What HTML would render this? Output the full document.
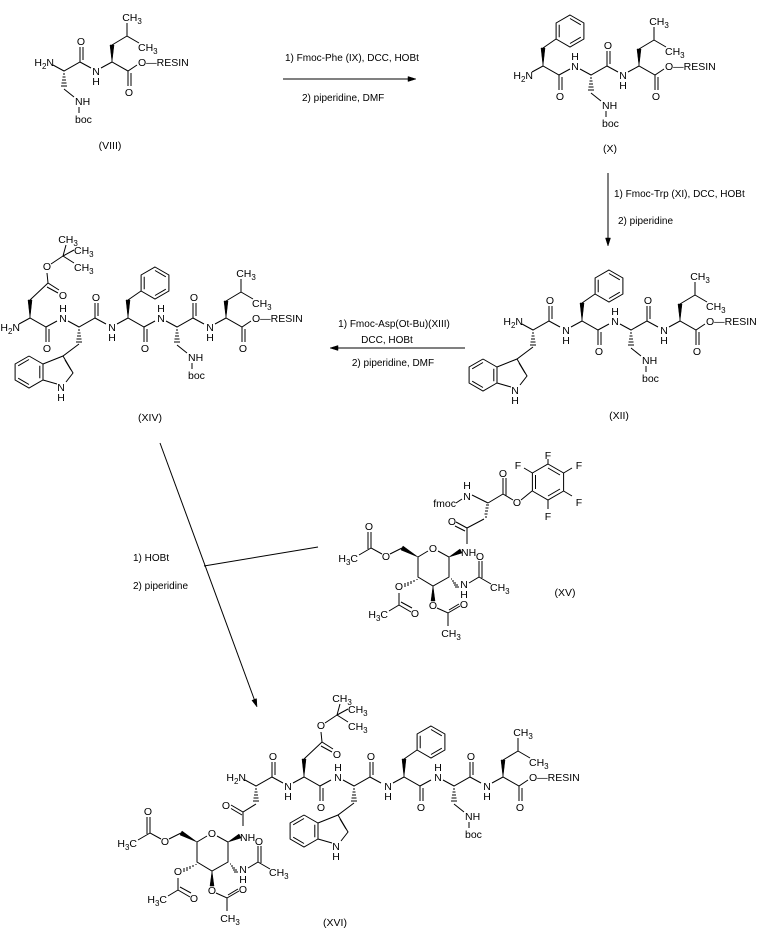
<!DOCTYPE html>
<html><head><meta charset="utf-8"><style>
html,body{margin:0;padding:0;background:#fff}
svg{display:block}
svg text{font-family:"Liberation Sans",Arial,sans-serif;font-size:10.5px;text-anchor:middle;fill:#000}
svg text.s{text-anchor:start}
svg text.e{text-anchor:end}
svg text.r{font-size:10px}
svg path,svg line{fill:none;stroke:#000;stroke-width:1}
svg polygon{fill:#000;stroke:#000;stroke-width:.5}
</style></head><body>
<svg width="767" height="931" viewBox="0 0 767 931" xmlns="http://www.w3.org/2000/svg">
<rect width="767" height="931" fill="#fff"/>

<!-- ===== (VIII) ===== -->
<g transform="translate(48,62)">
<path d="M5,3L16,9L32,0L43,6M32,0V-15M35,-2V-15"/>
<text class="e" x="6" y="4">H<tspan dy="3" font-size="8">2</tspan><tspan dy="-3">N</tspan></text><text x="33" y="-17">O</text>
<path d="M15,12h2M14.5,15h3M14,18h4M13.5,21h5M13,24h6M16,27L26,35M31,45V51"/><text class="s" x="27" y="43">NH</text><text class="s" x="27" y="61">boc</text>
</g>
<g transform="translate(96,71)">
<path d="M5,-3L16,-9L32,0L41,-6M32,0V15M35,2V15"/><text y="4">N</text><text y="14">H</text><text x="33" y="25">O</text><text class="s" x="42" y="-5">O—RESIN</text>
<polygon points="16,-9 14,-26 18,-26"/><path d="M16,-26L31,-35V-48M31,-35L43,-28"/><text x="36" y="-50">CH<tspan dy="3" font-size="8">3</tspan></text><text class="s" x="42" y="-20">CH<tspan dy="3" font-size="8">3</tspan></text>
</g>
<text x="110" y="149">(VIII)</text>

<!-- arrow 1 -->
<path d="M283,79H409"/><polygon points="416,79 408,76.5 408,81.5"/>
<text class="s r" x="285" y="61">1)  Fmoc-Phe   (IX), DCC, HOBt</text>
<text class="s r" x="302" y="101">2) piperidine, DMF</text>

<!-- ===== (X) ===== -->
<g transform="translate(527,75)">
<path d="M5,-3L16,-9L32,0L43,-6M32,0V15M35,2V15"/><text class="e" x="6" y="4">H<tspan dy="3" font-size="8">2</tspan><tspan dy="-3">N</tspan></text><text x="33" y="25">O</text>
<polygon points="16,-9 14,-27 18,-27"/><path d="M16,-27L29,-36M43,-60L56.9,-52V-36L43,-28L29.1,-36V-52Z M43,-56.5L53.8,-50.2M53.8,-37.8L43,-31.5M32.2,-37.8V-50.2"/>
</g>
<g transform="translate(575,66)">
<path d="M5,3L16,9L32,0L43,6M32,0V-15M35,-2V-15"/><text y="4">N</text><text y="-6">H</text><text x="33" y="-17">O</text>
<path d="M15,12h2M14.5,15h3M14,18h4M13.5,21h5M13,24h6M16,27L26,35M31,45V51"/><text class="s" x="27" y="43">NH</text><text class="s" x="27" y="61">boc</text>
</g>
<g transform="translate(623,75)">
<path d="M5,-3L16,-9L32,0L41,-6M32,0V15M35,2V15"/><text y="4">N</text><text y="14">H</text><text x="33" y="25">O</text><text class="s" x="42" y="-5">O—RESIN</text>
<polygon points="16,-9 14,-26 18,-26"/><path d="M16,-26L31,-35V-48M31,-35L43,-28"/><text x="36" y="-50">CH<tspan dy="3" font-size="8">3</tspan></text><text class="s" x="42" y="-20">CH<tspan dy="3" font-size="8">3</tspan></text>
</g>
<text x="610" y="152">(X)</text>

<!-- arrow 2 (vertical) -->
<path d="M608,173V238"/><polygon points="608,246 605.5,238 610.5,238"/>
<text class="s r" x="614" y="197">1)  Fmoc-Trp  (XI), DCC, HOBt</text>
<text class="s r" x="618" y="224">2) piperidine</text>

<!-- ===== (XII) ===== -->
<g transform="translate(517,321)">
<path d="M5,3L16,9L32,0L43,6M32,0V-15M35,-2V-15"/><text class="e" x="6" y="4">H<tspan dy="3" font-size="8">2</tspan><tspan dy="-3">N</tspan></text><text x="33" y="-17">O</text>
<path d="M15,12h2M14.5,15h3M14,18h4M13.5,21h5M13,24h6"/>
<path d="M16,26L0,38L-20,46V62M0,38L10,55L3,64M-6,66L-20,62M2,42L8,52M-34,38L-20.1,46M-20.1,62L-34,70L-47.9,62V46L-34,38M-34,41.5L-44.8,47.8M-44.8,60.2L-34,66.5M-23.2,47.8V60.2"/><text x="-2" y="73">N</text><text x="-2" y="83">H</text>
</g>
<g transform="translate(566,330)">
<path d="M5,-3L16,-9L32,0L43,-6M32,0V15M35,2V15"/><text y="4">N</text><text y="14">H</text><text x="33" y="25">O</text>
<polygon points="16,-9 14,-27 18,-27"/><path d="M16,-27L29,-36M43,-60L56.9,-52V-36L43,-28L29.1,-36V-52Z M43,-56.5L53.8,-50.2M53.8,-37.8L43,-31.5M32.2,-37.8V-50.2"/>
</g>
<g transform="translate(615,321)">
<path d="M5,3L16,9L32,0L43,6M32,0V-15M35,-2V-15"/><text y="4">N</text><text y="-6">H</text><text x="33" y="-17">O</text>
<path d="M15,12h2M14.5,15h3M14,18h4M13.5,21h5M13,24h6M16,27L26,35M31,45V51"/><text class="s" x="27" y="43">NH</text><text class="s" x="27" y="61">boc</text>
</g>
<g transform="translate(664,330)">
<path d="M5,-3L16,-9L32,0L41,-6M32,0V15M35,2V15"/><text y="4">N</text><text y="14">H</text><text x="33" y="25">O</text><text class="s" x="42" y="-5">O—RESIN</text>
<polygon points="16,-9 14,-26 18,-26"/><path d="M16,-26L31,-35V-48M31,-35L43,-28"/><text x="36" y="-50">CH<tspan dy="3" font-size="8">3</tspan></text><text class="s" x="42" y="-20">CH<tspan dy="3" font-size="8">3</tspan></text>
</g>
<text x="619" y="419">(XII)</text>

<!-- arrow 3 (left) -->
<path d="M465,348H338"/><polygon points="330,348 338,345.5 338,350.5"/>
<text class="r" x="394" y="327">1) Fmoc-Asp(Ot-Bu)(XIII)</text>
<text class="r" x="387" y="343">DCC, HOBt</text>
<text class="r" x="393" y="366">2) piperidine, DMF</text>

<!-- ===== (XIV) ===== -->
<g transform="translate(14,327)">
<path d="M5,-3L16,-9L32,0L43,-6M32,0V15M35,2V15"/><text class="e" x="6" y="4">H<tspan dy="3" font-size="8">2</tspan><tspan dy="-3">N</tspan></text><text x="33" y="25">O</text>
<polygon points="16,-9 14,-27 18,-27"/><path d="M16,-27L34,-44L45,-37M33,-40L44,-34M34,-44L33,-54M37,-63L49,-71L52,-82M49,-71L60,-77M49,-71L60,-64"/><text x="49" y="-28">O</text><text x="33" y="-57">O</text>
<text x="54" y="-84">CH<tspan dy="3" font-size="8">3</tspan></text><text class="s" x="60" y="-73">CH<tspan dy="3" font-size="8">3</tspan></text><text class="s" x="60" y="-56">CH<tspan dy="3" font-size="8">3</tspan></text>
</g>
<g transform="translate(63,318)">
<path d="M5,3L16,9L32,0L43,6M32,0V-15M35,-2V-15"/><text y="4">N</text><text y="-6">H</text><text x="33" y="-17">O</text>
<path d="M15,12h2M14.5,15h3M14,18h4M13.5,21h5M13,24h6"/>
<path d="M16,26L0,38L-20,46V62M0,38L10,55L3,64M-6,66L-20,62M2,42L8,52M-34,38L-20.1,46M-20.1,62L-34,70L-47.9,62V46L-34,38M-34,41.5L-44.8,47.8M-44.8,60.2L-34,66.5M-23.2,47.8V60.2"/><text x="-2" y="73">N</text><text x="-2" y="83">H</text>
</g>
<g transform="translate(112,327)">
<path d="M5,-3L16,-9L32,0L43,-6M32,0V15M35,2V15"/><text y="4">N</text><text y="14">H</text><text x="33" y="25">O</text>
<polygon points="16,-9 14,-27 18,-27"/><path d="M16,-27L29,-36M43,-60L56.9,-52V-36L43,-28L29.1,-36V-52Z M43,-56.5L53.8,-50.2M53.8,-37.8L43,-31.5M32.2,-37.8V-50.2"/>
</g>
<g transform="translate(161,318)">
<path d="M5,3L16,9L32,0L43,6M32,0V-15M35,-2V-15"/><text y="4">N</text><text y="-6">H</text><text x="33" y="-17">O</text>
<path d="M15,12h2M14.5,15h3M14,18h4M13.5,21h5M13,24h6M16,27L26,35M31,45V51"/><text class="s" x="27" y="43">NH</text><text class="s" x="27" y="61">boc</text>
</g>
<g transform="translate(210,327)">
<path d="M5,-3L16,-9L32,0L41,-6M32,0V15M35,2V15"/><text y="4">N</text><text y="14">H</text><text x="33" y="25">O</text><text class="s" x="42" y="-5">O—RESIN</text>
<polygon points="16,-9 14,-26 18,-26"/><path d="M16,-26L31,-35V-48M31,-35L43,-28"/><text x="36" y="-50">CH<tspan dy="3" font-size="8">3</tspan></text><text class="s" x="42" y="-20">CH<tspan dy="3" font-size="8">3</tspan></text>
</g>
<text x="150" y="421">(XIV)</text>

<!-- diagonal arrow -->
<path d="M160,443L254.5,700"/><polygon points="257,707 251.9,700.4 256.5,698.6"/>
<path d="M204,566L318,547"/>
<text class="s r" x="133" y="561">1) HOBt</text>
<text class="s r" x="133" y="589">2) piperidine</text>

<!-- ===== sugar (XVI absolute) + copy for XV ===== -->
<g id="sug">
<path d="M197,842L207,836M217,836L228,842V862L212,871L197,862V842"/>
<text x="212" y="837">O</text>
<polygon points="228,842 239,834 241,838"/>
<polygon points="197,842 182,831 180,835"/>
<path d="M181,833L169,839M161,839L150,833V817M147,834V817M150,833L138,840"/>
<text x="165" y="845">O</text><text x="148" y="815">O</text>
<text class="e" x="137" y="847">H<tspan dy="3" font-size="8">3</tspan><tspan dy="-3">C</tspan></text>
<path d="M230,864h1M231,866h2M232,868h3M233,870h4M234,872h4"/>
<path d="M248,868L258,862V846M261,863V846M258,862L270,869"/>
<text x="243" y="873">N</text><text x="243" y="883">H</text><text x="259" y="845">O</text>
<text class="s" x="269" y="876">CH<tspan dy="3" font-size="8">3</tspan></text>
<path d="M196,864v1M193,865v2M190,866v3M187,867v4M184,868v4"/>
<text x="178" y="875">O</text>
<path d="M178,878V890L190,897M180,887L191,893M178,890L168,896"/>
<text x="194" y="902">O</text>
<text class="e" x="167" y="903">H<tspan dy="3" font-size="8">3</tspan><tspan dy="-3">C</tspan></text>
<polygon points="212,871 210,886 214,886"/>
<text x="212" y="894">O</text>
<path d="M216,893L227,898L239,891M228,895L238,889M227,898V911"/>
<text x="243" y="893">O</text>
<text x="230" y="922">CH<tspan dy="3" font-size="8">3</tspan></text>
</g>

<!-- XV -->
<g transform="translate(221,-285)">
<path d="M217,836L228,842V862L212,871L197,862V842L207,836"/>
<text x="212" y="837">O</text>
<polygon points="228,842 239,834 241,838"/>
<polygon points="197,842 182,831 180,835"/>
<path d="M181,833L169,839M161,839L150,833V817M147,834V817M150,833L138,840"/>
<text x="165" y="845">O</text><text x="148" y="815">O</text>
<text class="e" x="137" y="847">H<tspan dy="3" font-size="8">3</tspan><tspan dy="-3">C</tspan></text>
<path d="M230,864h1M231,866h2M232,868h3M233,870h4M234,872h4"/>
<path d="M248,868L258,862V846M261,863V846M258,862L270,869"/>
<text x="243" y="873">N</text><text x="243" y="883">H</text><text x="259" y="845">O</text>
<text class="s" x="269" y="876">CH<tspan dy="3" font-size="8">3</tspan></text>
<path d="M196,864v1M193,865v2M190,866v3M187,867v4M184,868v4"/>
<text x="178" y="875">O</text>
<path d="M178,878V890L190,897M180,887L191,893M178,890L168,896"/>
<text x="194" y="902">O</text>
<text class="e" x="167" y="903">H<tspan dy="3" font-size="8">3</tspan><tspan dy="-3">C</tspan></text>
<polygon points="212,871 210,886 214,886"/>
<text x="212" y="894">O</text>
<path d="M216,893L227,898L239,891M228,895L238,889M227,898V911"/>
<text x="243" y="893">O</text>
<text x="230" y="922">CH<tspan dy="3" font-size="8">3</tspan></text>
</g>
<!-- XV rest -->
<text class="s" x="461" y="556">NH</text>
<path d="M467,528V544M467,528L456,522M465,531L455,526M467,528L484,519"/>
<text x="452" y="525">O</text>
<path d="M485,517h2M484.5,514h3M485,511h3M485.5,508h3M486,505h3"/>
<path d="M488,503L472,495M462,499L456,503M488,503L503,494V478M506,496V478M503,494L513,500M521,500L532,491"/>
<text x="467" y="500">N</text><text x="467" y="489">H</text>
<text class="e" x="456" y="507">fmoc</text>
<text x="503" y="477">O</text><text x="517" y="506">O</text>
<path d="M548,464L563.6,473V491L548,500L532.4,491V473Z M548,468L560,475M560,489L548,496M535.5,475V489"/>
<path d="M548,464V459M532.4,473L524,468M563.6,473L572,468M563.6,491L572,496M548,500V509"/>
<text x="548" y="459">F</text><text x="518" y="469">F</text><text x="579" y="469">F</text><text x="579" y="506">F</text><text x="548" y="520">F</text>
<text x="565" y="596">(XV)</text>

<!-- ===== (XVI) ===== -->
<text class="s" x="240" y="841">NH</text>
<g transform="translate(240,777)">
<path d="M5,3L16,9L32,0L43,6M32,0V-15M35,-2V-15"/><text class="e" x="6" y="4">H<tspan dy="3" font-size="8">2</tspan><tspan dy="-3">N</tspan></text><text x="33" y="-17">O</text>
<path d="M15,12h2M14.5,15h3M14,18h4M13.5,21h5M13,24h6M16,27L3,35L-9,28M2,38L-9,31.5M3,35V49"/><text x="-14" y="32">O</text>
</g>
<g transform="translate(288,786)">
<path d="M5,-3L16,-9L32,0L43,-6M32,0V15M35,2V15"/><text y="4">N</text><text y="14">H</text><text x="33" y="25">O</text>
<polygon points="16,-9 14,-27 18,-27"/><path d="M16,-27L34,-44L45,-37M33,-40L44,-34M34,-44L33,-54M37,-63L49,-71L52,-82M49,-71L60,-77M49,-71L60,-64"/><text x="49" y="-28">O</text><text x="33" y="-57">O</text>
<text x="54" y="-84">CH<tspan dy="3" font-size="8">3</tspan></text><text class="s" x="60" y="-73">CH<tspan dy="3" font-size="8">3</tspan></text><text class="s" x="60" y="-56">CH<tspan dy="3" font-size="8">3</tspan></text>
</g>
<g transform="translate(338,777)">
<path d="M5,3L16,9L32,0L43,6M32,0V-15M35,-2V-15"/><text y="4">N</text><text y="-6">H</text><text x="33" y="-17">O</text>
<path d="M15,12h2M14.5,15h3M14,18h4M13.5,21h5M13,24h6"/>
<path d="M16,26L0,38L-20,46V62M0,38L10,55L3,64M-6,66L-20,62M2,42L8,52M-34,38L-20.1,46M-20.1,62L-34,70L-47.9,62V46L-34,38M-34,41.5L-44.8,47.8M-44.8,60.2L-34,66.5M-23.2,47.8V60.2"/><text x="-2" y="73">N</text><text x="-2" y="83">H</text>
</g>
<g transform="translate(388,786)">
<path d="M5,-3L16,-9L32,0L43,-6M32,0V15M35,2V15"/><text y="4">N</text><text y="14">H</text><text x="33" y="25">O</text>
<polygon points="16,-9 14,-27 18,-27"/><path d="M16,-27L29,-36M43,-60L56.9,-52V-36L43,-28L29.1,-36V-52Z M43,-56.5L53.8,-50.2M53.8,-37.8L43,-31.5M32.2,-37.8V-50.2"/>
</g>
<g transform="translate(438,777)">
<path d="M5,3L16,9L32,0L43,6M32,0V-15M35,-2V-15"/><text y="4">N</text><text y="-6">H</text><text x="33" y="-17">O</text>
<path d="M15,12h2M14.5,15h3M14,18h4M13.5,21h5M13,24h6M16,27L26,35M31,45V51"/><text class="s" x="27" y="43">NH</text><text class="s" x="27" y="61">boc</text>
</g>
<g transform="translate(487,786)">
<path d="M5,-3L16,-9L32,0L41,-6M32,0V15M35,2V15"/><text y="4">N</text><text y="14">H</text><text x="33" y="25">O</text><text class="s" x="42" y="-5">O—RESIN</text>
<polygon points="16,-9 14,-26 18,-26"/><path d="M16,-26L31,-35V-48M31,-35L43,-28"/><text x="36" y="-50">CH<tspan dy="3" font-size="8">3</tspan></text><text class="s" x="42" y="-20">CH<tspan dy="3" font-size="8">3</tspan></text>
</g>
<text x="335" y="926">(XVI)</text>
</svg>
</body></html>
